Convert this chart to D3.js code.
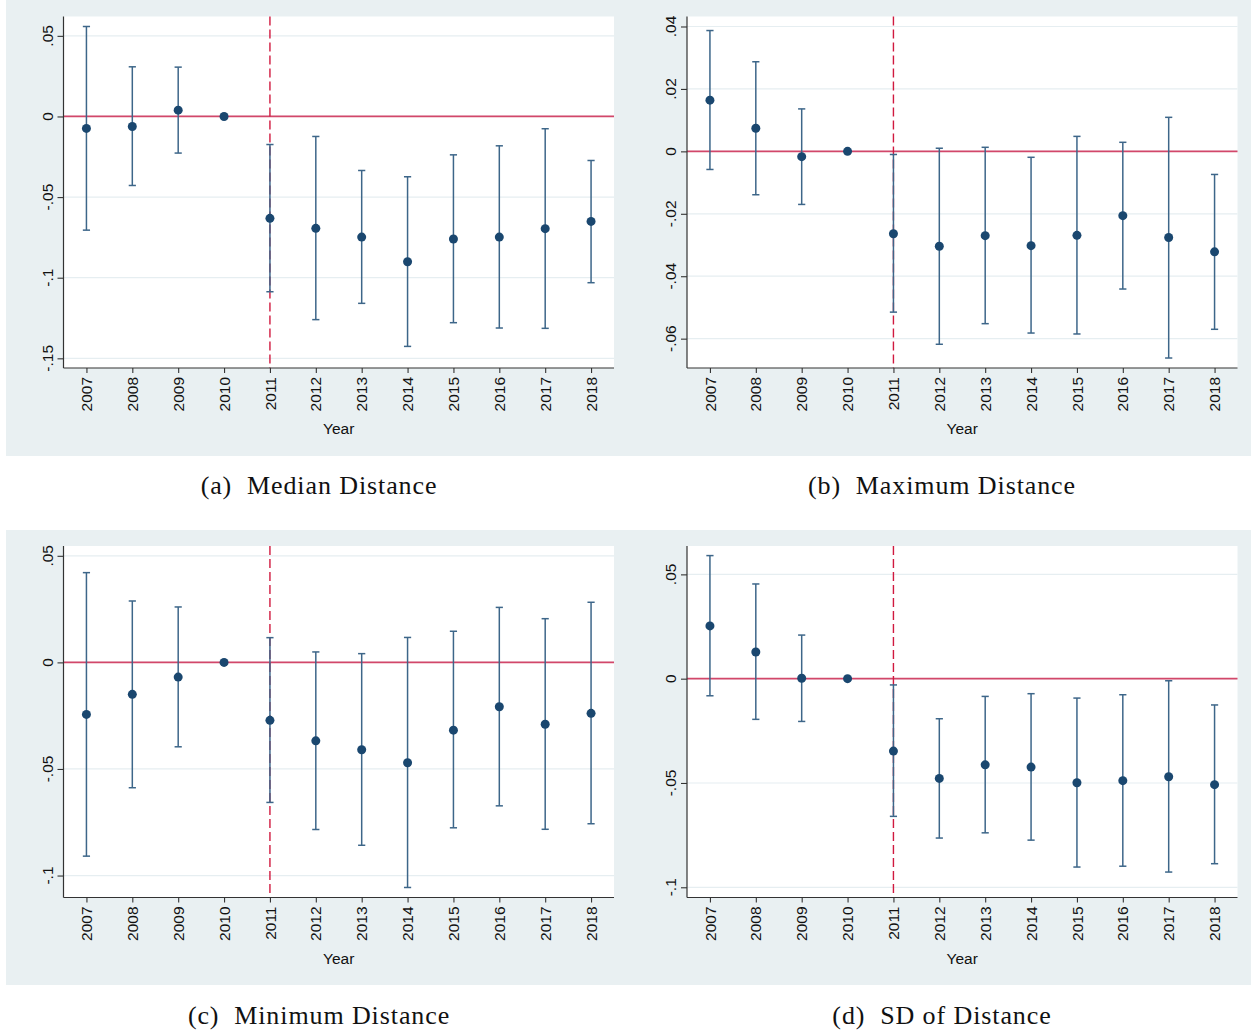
<!DOCTYPE html>
<html>
<head>
<meta charset="utf-8">
<script src="https://cdn.jsdelivr.net/npm/d3@7"></script>
<style>
  html, body { margin: 0; padding: 0; background: #ffffff; }
  svg { display: block; }
</style>
</head>
<body>
<svg id="chart" width="1251" height="1034"></svg>
<script>
// Event-study coefficients with 95% confidence intervals, 2010 is the base year.
const years = [2007, 2008, 2009, 2010, 2011, 2012, 2013, 2014, 2015, 2016, 2017, 2018];

const medianEst = [-0.0074, -0.0062, 0.0039, 0, -0.0632, -0.0694, -0.0748, -0.0901, -0.0760, -0.0748, -0.0696, -0.0651];
const medianLo  = [-0.0705, -0.0428, -0.0227, null, -0.1087, -0.1260, -0.1159, -0.1426, -0.1279, -0.1312, -0.1314, -0.1031];
const medianHi  = [0.0558, 0.0308, 0.0306, null, -0.0174, -0.0124, -0.0335, -0.0374, -0.0238, -0.0182, -0.0076, -0.0273];

const maxEst = [0.0164, 0.0074, -0.0017, 0, -0.0264, -0.0304, -0.0270, -0.0302, -0.0269, -0.0206, -0.0276, -0.0322];
const maxLo  = [-0.0058, -0.0139, -0.0170, null, -0.0515, -0.0618, -0.0552, -0.0582, -0.0585, -0.0441, -0.0662, -0.0570];
const maxHi  = [0.0387, 0.0287, 0.0136, null, -0.0010, 0.0010, 0.0013, -0.0019, 0.0048, 0.0029, 0.0109, -0.0074];

const minEst = [-0.0244, -0.0150, -0.0069, 0, -0.0272, -0.0368, -0.0410, -0.0471, -0.0318, -0.0208, -0.0290, -0.0239];
const minLo  = [-0.0909, -0.0588, -0.0396, null, -0.0657, -0.0784, -0.0858, -0.1056, -0.0776, -0.0673, -0.0783, -0.0757];
const minHi  = [0.0421, 0.0288, 0.0260, null, 0.0116, 0.0049, 0.0041, 0.0117, 0.0146, 0.0258, 0.0205, 0.0282];

const sdEst = [0.0253, 0.0128, 0.0002, 0, -0.0347, -0.0478, -0.0413, -0.0424, -0.0499, -0.0489, -0.0470, -0.0508];
const sdLo  = [-0.0082, -0.0195, -0.0205, null, -0.0660, -0.0764, -0.0739, -0.0774, -0.0903, -0.0899, -0.0927, -0.0887];
const sdHi  = [0.0590, 0.0454, 0.0209, null, -0.0030, -0.0192, -0.0085, -0.0072, -0.0093, -0.0077, -0.0010, -0.0126];

const medianTicks = [0.05, 0, -0.05, -0.1, -0.15];
const medianTickLabels = [".05", "0", "-.05", "-.1", "-.15"];
const maxTicks = [0.04, 0.02, 0, -0.02, -0.04, -0.06];
const maxTickLabels = [".04", ".02", "0", "-.02", "-.04", "-.06"];
const minTicks = [0.05, 0, -0.05, -0.1];
const minTickLabels = [".05", "0", "-.05", "-.1"];
const sdTicks = [0.05, 0, -0.05, -0.1];
const sdTickLabels = [".05", "0", "-.05", "-.1"];

const captions = ["(a)  Median Distance", "(b)  Maximum Distance", "(c)  Minimum Distance", "(d)  SD of Distance"];

const treatYear = 2011;
const xTitle = "Year";

// Panel layout
const panels = [
  { est: medianEst, lo: medianLo, hi: medianHi, ticks: medianTicks, labels: medianTickLabels,
    domain: [-0.156, 0.062], ox: 0, oy: 0, caption: captions[0] },
  { est: maxEst, lo: maxLo, hi: maxHi, ticks: maxTicks, labels: maxTickLabels,
    domain: [-0.0694, 0.0432], ox: 623.5, oy: 0, caption: captions[1] },
  { est: minEst, lo: minLo, hi: minHi, ticks: minTicks, labels: minTickLabels,
    domain: [-0.1103, 0.0546], ox: 0, oy: 529.5, caption: captions[2] },
  { est: sdEst, lo: sdLo, hi: sdHi, ticks: sdTicks, labels: sdTickLabels,
    domain: [-0.1049, 0.0636], ox: 623.5, oy: 529.5, caption: captions[3] }
];

const svg = d3.select("#chart");

const bgColor = "#e9f0f2";
const gridColor = "#e6eef1";
const navy = "#1a476f";
const barColor = "#3d6689";
const zeroColor = "#d2476a";
const dashColor = "#d0193f";
const axisFont = "'Liberation Sans', Arial, sans-serif";
const captionFont = "'Liberation Serif', 'Times New Roman', serif";

// Plot region inside each panel (panel-relative coordinates)
const inner = { left: 63.5, right: 614, top: 16.5, bottom: 368 };

panels.forEach((p, i) => {
  const g = svg.append("g").attr("transform", `translate(${p.ox},${p.oy})`);

  // Outer graph region
  const bgX0 = i % 2 === 0 ? 6 : 4.5;
  const bgX1 = i % 2 === 0 ? 628 - p.ox : 1251 - p.ox;
  g.append("rect")
    .attr("x", bgX0).attr("y", i < 2 ? 0 : 0.5)
    .attr("width", bgX1 - bgX0).attr("height", i < 2 ? 456 : 455)
    .attr("fill", bgColor);

  // Plot region
  g.append("rect")
    .attr("x", inner.left).attr("y", inner.top)
    .attr("width", inner.right - inner.left).attr("height", inner.bottom - inner.top)
    .attr("fill", "#ffffff");

  const x = d3.scaleLinear().domain([2006.5, 2018.5]).range([inner.left, inner.right]);
  const y = d3.scaleLinear().domain(p.domain).range([inner.bottom, inner.top]);

  // Gridlines
  g.append("g").selectAll("line").data(p.ticks).join("line")
    .attr("x1", inner.left).attr("x2", inner.right)
    .attr("y1", d => y(d)).attr("y2", d => y(d))
    .attr("stroke", gridColor).attr("stroke-width", 1.2);

  // Reference lines: zero effect and treatment year
  g.append("line")
    .attr("x1", inner.left).attr("x2", inner.right)
    .attr("y1", y(0)).attr("y2", y(0))
    .attr("stroke", zeroColor).attr("stroke-width", 1.8);
  g.append("line")
    .attr("x1", x(treatYear)).attr("x2", x(treatYear))
    .attr("y1", inner.top).attr("y2", inner.bottom)
    .attr("stroke", dashColor).attr("stroke-width", 1.4)
    .attr("stroke-dasharray", "9,4");

  // Confidence intervals
  const rows = years.map((yr, k) => ({ yr, est: p.est[k], lo: p.lo[k], hi: p.hi[k] }));
  const ci = rows.filter(r => r.lo !== null && r.hi !== null);
  const capW = 3.6;
  const eb = g.append("g").attr("stroke", barColor).attr("stroke-width", 1.5).attr("fill", "none");
  eb.selectAll("line.v").data(ci).join("line").attr("class", "v")
    .attr("x1", d => x(d.yr)).attr("x2", d => x(d.yr))
    .attr("y1", d => y(d.lo)).attr("y2", d => y(d.hi));
  eb.selectAll("line.t").data(ci).join("line").attr("class", "t")
    .attr("x1", d => x(d.yr) - capW).attr("x2", d => x(d.yr) + capW)
    .attr("y1", d => y(d.hi)).attr("y2", d => y(d.hi));
  eb.selectAll("line.b").data(ci).join("line").attr("class", "b")
    .attr("x1", d => x(d.yr) - capW).attr("x2", d => x(d.yr) + capW)
    .attr("y1", d => y(d.lo)).attr("y2", d => y(d.lo));

  // Point estimates
  g.append("g").selectAll("circle").data(rows).join("circle")
    .attr("cx", d => x(d.yr)).attr("cy", d => y(d.est))
    .attr("r", 4.5).attr("fill", navy);

  // Y axis
  const yAxis = d3.axisLeft(y).tickValues(p.ticks).tickSize(6).tickFormat("");
  const ya = g.append("g").attr("transform", `translate(${inner.left},0)`).call(yAxis);
  ya.select(".domain").attr("d", `M-0,${inner.top}V${inner.bottom}`).attr("stroke", "#333").attr("stroke-width", 1.2);
  ya.selectAll(".tick line").attr("stroke", "#333").attr("stroke-width", 1.1);
  g.append("g").selectAll("text").data(p.ticks).join("text")
    .attr("transform", (d) => `translate(${inner.left - 11},${y(d)}) rotate(-90)`)
    .attr("text-anchor", "middle")
    .attr("font-family", axisFont).attr("font-size", 15.5).attr("fill", "#111")
    .text((d, k) => p.labels[k]);

  // X axis
  const xAxis = d3.axisBottom(x).tickValues(years).tickSize(5).tickFormat("");
  const xa = g.append("g").attr("transform", `translate(0,${inner.bottom})`).call(xAxis);
  xa.select(".domain").attr("d", `M${inner.left},0H${inner.right}`).attr("stroke", "#333").attr("stroke-width", 1.2);
  xa.selectAll(".tick line").attr("stroke", "#333").attr("stroke-width", 1.1);
  g.append("g").selectAll("text").data(years).join("text")
    .attr("transform", d => `translate(${x(d)},${inner.bottom + 9}) rotate(-90)`)
    .attr("text-anchor", "end").attr("dy", "0.36em")
    .attr("font-family", axisFont).attr("font-size", 15.5).attr("fill", "#111")
    .text(d => d);

  g.append("text")
    .attr("x", (inner.left + inner.right) / 2).attr("y", 434)
    .attr("text-anchor", "middle")
    .attr("font-family", axisFont).attr("font-size", 15.5).attr("fill", "#111")
    .text(xTitle);

  // Sub-figure caption
  g.append("text")
    .attr("x", i % 2 === 0 ? 319 : 942 - p.ox).attr("y", 494)
    .attr("text-anchor", "middle")
    .attr("font-family", captionFont).attr("font-size", 26).attr("fill", "#111")
    .attr("letter-spacing", 0.9)
    .style("white-space", "pre")
    .text(p.caption);
});
</script>
</body>
</html>
